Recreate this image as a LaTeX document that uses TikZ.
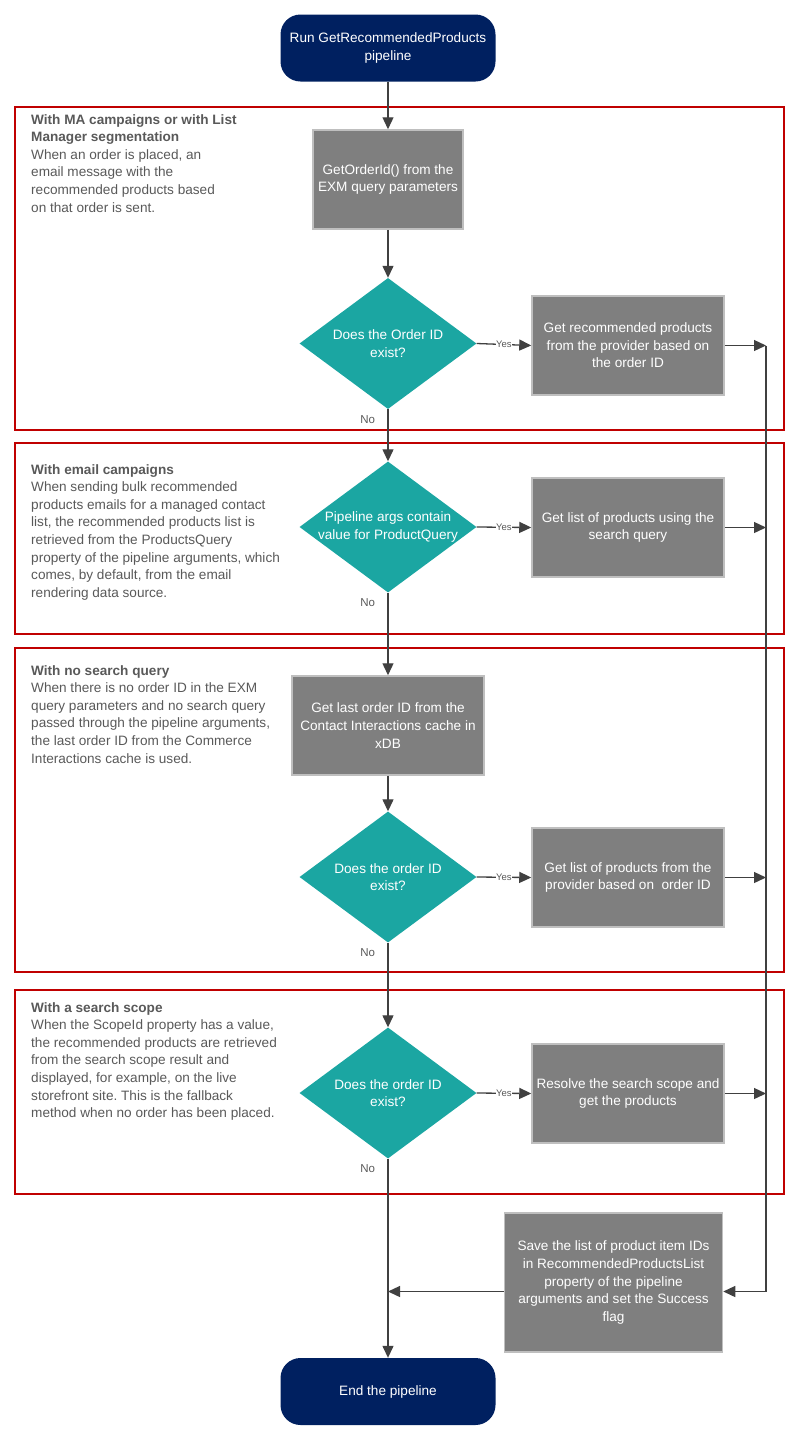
\documentclass[tikz,border=0pt]{standalone}
\usepackage{fontspec}
\setmainfont{Liberation Sans}
\usetikzlibrary{shapes.geometric}
\usetikzlibrary{arrows.meta}
\frenchspacing

\definecolor{navy}{RGB}{0,32,96}
\definecolor{tealfill}{RGB}{27,166,162}
\definecolor{boxgray}{RGB}{127,127,127}
\definecolor{boxedge}{RGB}{191,191,191}
\definecolor{framered}{RGB}{192,0,0}
\definecolor{notegray}{RGB}{89,89,89}
\definecolor{linegray}{RGB}{64,64,64}

\begin{document}
\begin{tikzpicture}[
     x=1pt, y=-1pt,
     term/.style={rectangle, rounded corners=20pt, fill=navy, text=white,
       minimum width=215pt, minimum height=67pt, align=center,
       font=\fontsize{13.6}{17.6}\selectfont},
     act/.style={rectangle, fill=boxgray, draw=boxedge, line width=1.5pt,
       text=white, minimum height=99pt, align=center,
       font=\fontsize{13.6}{17.6}\selectfont},
     dec/.style={diamond, fill=tealfill, inner sep=0pt,
       minimum width=177pt, minimum height=131pt},
     dectext/.style={text=white, align=center,
       font=\fontsize{13.6}{17.6}\selectfont},
     note/.style={anchor=north west, inner sep=0pt, text=notegray, align=left,
       font=\fontsize{13.6}{17.6}\selectfont},
     grp/.style={draw=framered, line width=2.8pt},
     flow/.style={draw=linegray, line width=1.3pt,
       -{Triangle[length=12pt,width=11pt]}},
     yeslbl/.style={midway, fill=white, inner sep=0.5pt, text=notegray,
       font=\fontsize{9.5}{11}\selectfont},
     nolbl/.style={pos=0, anchor=north east, xshift=-9pt, yshift=-2pt,
       text=notegray, font=\fontsize{11.5}{13}\selectfont}
   ]
   \path[use as bounding box] (0,0) rectangle (798,1430);
   % Frames.
   \draw[grp] (15,107) rectangle (784,430);
   \draw[grp] (15,443) rectangle (784,634);
   \draw[grp] (15,648) rectangle (784,972);
   \draw[grp] (15,990) rectangle (784,1194);
   % Notes.
   \node[note] (n1) at (31,114) {\textbf{With MA campaigns or with List}\\
     \textbf{Manager segmentation}\\When an order is placed, an\\
     email message with the\\recommended products based\\
     on that order is sent.};
   \node[note] (n2) at (31,464) {\textbf{With email campaigns}\\
     When sending bulk recommended\\products emails for a managed contact\\
     list, the recommended products list is\\retrieved from the ProductsQuery\\
     property of the pipeline arguments, which\\
     comes, by default, from the email\\rendering data source.};
   \node[note] (n3) at (31,665) {\textbf{With no search query}\\
     When there is no order ID in the EXM\\query parameters and no search query\\
     passed through the pipeline arguments,\\the last order ID from the Commerce\\
     Interactions cache is used.};
   \node[note] (n4) at (31,1002) {\textbf{With a search scope}\\
     When the ScopeId property has a value,\\the recommended products are retrieved\\
     from the search scope result and\\displayed, for example, on the live\\
     storefront site. This is the fallback\\method when no order has been placed.};
   % Steps.
   \node[term] (run) at (388,48) {Run GetRecommendedProducts\\pipeline};
   \node[act, minimum width=150pt] (b1) at (388,179.5)
     {GetOrderId() from the\\EXM query parameters};
   \node[dec, label={[dectext]center:Does the Order ID\\exist?}] (d1) at (388,343.5) {};
   \node[act, minimum width=192pt] (r1) at (628,345.5)
     {Get recommended products\\from the provider based on\\the order ID};
   \node[dec, label={[dectext]center:Pipeline args contain\\value for ProductQuery}] (d2) at (388,527) {};
   \node[act, minimum width=192pt] (r2) at (628,527.5)
     {Get list of products using the\\search query};
   \node[act, minimum width=192pt] (b3) at (388,725.5)
     {Get last order ID from the\\Contact Interactions cache in\\xDB};
   \node[dec, label={[dectext]center:Does the order ID\\exist?}] (d3) at (388,877) {};
   \node[act, minimum width=192pt] (r3) at (628,877.5)
     {Get list of products from the\\provider based on\ \ order ID};
   \node[dec, label={[dectext]center:Does the order ID\\exist?}] (d4) at (388,1093) {};
   \node[act, minimum width=192pt] (r4) at (628,1093.5)
     {Resolve the search scope and\\get the products};
   \node[act, minimum width=218pt, minimum height=139pt] (save) at (613.5,1282.5)
     {Save the list of product item IDs\\in RecommendedProductsList\\
      property of the pipeline\\arguments and set the Success\\flag};
   \node[term] (finish) at (388,1391.5) {End the pipeline};
   % Main line.
   \draw[flow] (run.south) -- (b1.north);
   \draw[flow] (b1.south) -- (d1.north);
   \draw[flow] (d1.south) -- node[nolbl] {No} (d2.north);
   \draw[flow] (d2.south) -- node[nolbl] {No} (b3.north);
   \draw[flow] (b3.south) -- (d3.north);
   \draw[flow] (d3.south) -- node[nolbl] {No} (d4.north);
   \draw[flow] (d4.south) -- node[nolbl] {No} (finish.north);
   % Yes branches.
   \draw[flow] (d1.east) -- node[yeslbl] {Yes} (r1.west);
   \draw[flow] (d2.east) -- node[yeslbl] {Yes} (r2.west);
   \draw[flow] (d3.east) -- node[yeslbl] {Yes} (r3.west);
   \draw[flow] (d4.east) -- node[yeslbl] {Yes} (r4.west);
   % Collector on the right.
   \coordinate (bus) at (766,345.5);
   \draw[flow] (r1.east) -- (r1.east -| bus);
   \draw[flow] (r2.east) -- (r2.east -| bus);
   \draw[flow] (r3.east) -- (r3.east -| bus);
   \draw[flow] (r4.east) -- (r4.east -| bus);
   \draw[flow] (bus) |- ([yshift=-9pt]save.east);
   \draw[flow] ([yshift=-9pt]save.west) -- ([yshift=-9pt]save.west -| d4.south);
 \end{tikzpicture}
\end{document}
